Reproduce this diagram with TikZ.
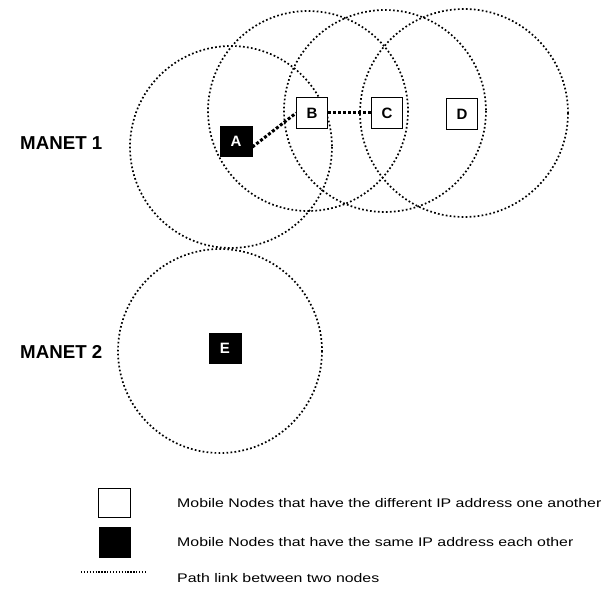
\documentclass[tikz,border=0pt]{standalone}
\usepackage{fontspec}
\setmainfont{Liberation Sans}
\newfontfamily\legendfont[FakeStretch=1.27]{Liberation Sans}
\begin{document}
\begin{tikzpicture}[x=1pt,y=-1pt,
  radiorange/.style={draw=black,line width=1.7pt,dash pattern=on 1.7pt off 2.3pt},
  whitenode/.style={draw=black,fill=white,line width=0.8pt,minimum width=31pt,minimum height=31pt,inner sep=0pt,font=\bfseries\fontsize{15}{15}\selectfont},
  blacknode/.style={draw=black,fill=black,text=white,line width=0.8pt,minimum width=32pt,minimum height=30pt,inner sep=0pt,font=\bfseries\fontsize{15}{15}\selectfont},
  pathlink/.style={draw=black,line width=3pt,dash pattern=on 3pt off 2pt},
  netlabel/.style={font=\bfseries\fontsize{18.7}{19}\selectfont,anchor=west,inner sep=0pt},
  legendtext/.style={font=\legendfont\fontsize{12.5}{12}\selectfont,anchor=west,inner sep=0pt}]
\useasboundingbox (0,0) rectangle (603,594);

% radio ranges of the MANET 1 nodes
\draw[radiorange] (231,147) circle (101);
\draw[radiorange] (308,111) circle (100);
\draw[radiorange] (385,111) circle (101);
\draw[radiorange] (464,113) circle (104);
% radio range of the MANET 2 node
\draw[radiorange] (220,351) circle (102);

% mobile nodes
\node[blacknode] (A) at (236,141) {A};
\node[whitenode] (B) at (312,113) {B};
\node[whitenode] (C) at (387,113) {C};
\node[whitenode] (D) at (462,114) {D};
\node[blacknode] (E) at (225,348) {E};

% path links
\draw[pathlink] ([yshift=-6pt]A.east) -- (B.west);
\draw[pathlink] (B.east) -- (C.west);

% network labels
\node[netlabel] (m1) at (20,143) {MANET 1};
\node[netlabel] (m2) at (20,352) {MANET 2};

% legend
\node[draw=black,line width=0.8pt,fill=white,minimum width=32pt,minimum height=29pt,inner sep=0pt] (lw) at (114,503) {};
\node[draw=black,fill=black,minimum width=31pt,minimum height=30pt,inner sep=0pt] (lb) at (115,542) {};
\coordinate (ld1) at (81,572);
\coordinate (ld2) at (145,572);
\draw[line width=1.3pt,dash pattern=on 1.3pt off 1.6pt] (ld1) -- (ld2);
\node[legendtext] (t1) at (177,503) {Mobile Nodes that have the different IP address one another};
\node[legendtext] (t2) at (177,542) {Mobile Nodes that have the same IP address each other};
\node[legendtext] (t3) at (177,578) {Path link between two nodes};
\end{tikzpicture}
\end{document}
